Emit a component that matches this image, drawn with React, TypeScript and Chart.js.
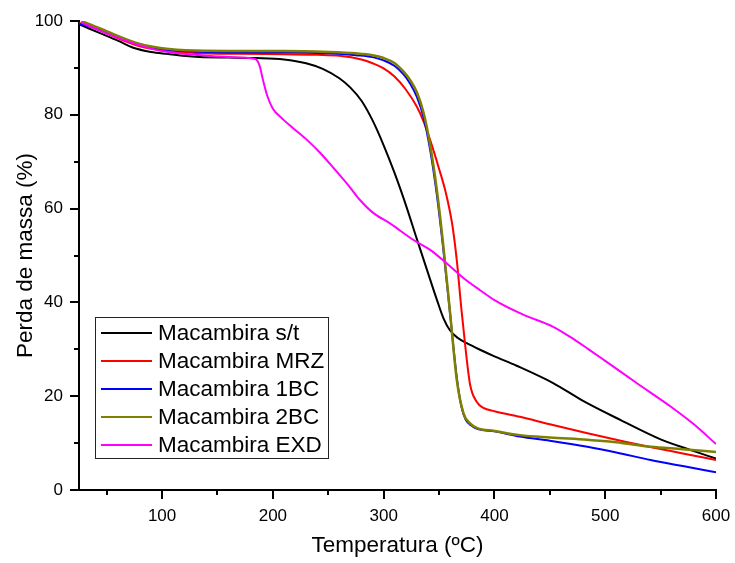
import { useEffect, useRef } from "react";
import { Chart, registerables } from "chart.js";

Chart.register(...registerables);

const FONT = "Arial, 'Liberation Sans', sans-serif";

// Temperature (ºC) and mass (%) for each sample
const tempSt = [25, 44, 60, 74, 90, 104, 134, 160, 185, 210, 230, 245, 260, 270, 280, 290, 300, 310, 320, 330, 340, 348, 354, 360, 367, 375, 387, 400, 420, 453, 480, 514, 550, 580, 600];
const massSt = [99.3, 97.4, 95.8, 94.3, 93.4, 93.0, 92.3, 92.2, 92.1, 91.8, 91.0, 89.8, 87.8, 85.8, 83.0, 78.8, 73.5, 67.5, 60.8, 53.5, 46.3, 40.6, 36.6, 34.0, 32.4, 31.3, 29.9, 28.5, 26.5, 22.8, 19.0, 14.9, 10.8, 8.3, 6.7];

const tempMrz = [25, 44, 60, 80, 100, 130, 170, 210, 240, 260, 280, 290, 300, 310, 320, 330, 336, 342, 350, 356, 362, 366, 370, 374, 378, 384, 390, 400, 423, 450, 484, 520, 544, 570, 600];
const massMrz = [99.6, 98.0, 96.3, 94.6, 93.7, 93.2, 93.0, 92.9, 92.8, 92.6, 91.8, 91.0, 89.9, 88.1, 85.4, 81.7, 78.6, 74.6, 68.5, 63.5, 56.5, 49.0, 39.0, 30.0, 22.5, 18.8, 17.5, 16.8, 15.6, 14.0, 12.1, 10.2, 9.0, 7.8, 6.4];

const temp1bc = [25, 44, 60, 80, 100, 130, 170, 210, 250, 275, 290, 300, 310, 318, 324, 330, 336, 342, 348, 354, 360, 366, 370, 374, 380, 385, 400, 423, 450, 484, 510, 541, 570, 600];
const mass1bc = [99.4, 98.2, 96.5, 94.9, 94.0, 93.5, 93.3, 93.3, 93.1, 92.7, 92.3, 91.6, 90.4, 88.6, 86.6, 83.8, 79.5, 72.5, 63.0, 51.0, 37.5, 24.0, 18.0, 15.0, 13.6, 13.0, 12.5, 11.4, 10.5, 9.2, 8.0, 6.4, 5.1, 3.8];

const temp2bc = [27, 44, 60, 80, 100, 130, 170, 210, 250, 275, 290, 300, 310, 318, 324, 330, 336, 342, 348, 354, 360, 366, 372, 378, 384.5, 400, 423, 450, 484, 510, 541, 570, 600];
const mass2bc = [100.0, 98.4, 96.8, 95.1, 94.2, 93.7, 93.6, 93.6, 93.4, 93.1, 92.7, 92.1, 91.0, 89.2, 87.4, 84.8, 80.5, 73.5, 64.0, 51.8, 37.7, 23.5, 16.4, 14.2, 13.2, 12.6, 11.7, 11.2, 10.7, 10.2, 9.2, 8.7, 8.1];

const tempExd = [27, 44, 60, 80, 100, 130, 160, 184, 188, 191, 195, 200, 207, 218, 231, 243, 255, 268, 278, 290, 306, 327, 342, 357, 372, 387, 400, 425, 453, 468, 485, 499, 529, 559, 580, 600];
const massExd = [99.7, 97.9, 96.4, 94.8, 93.6, 92.8, 92.3, 91.9, 90.5, 87.5, 84.0, 81.3, 79.5, 77.2, 74.6, 71.8, 68.6, 65.0, 62.0, 59.2, 56.8, 53.3, 51.2, 48.3, 45.2, 42.6, 40.5, 37.5, 34.8, 32.7, 30.0, 27.7, 22.7, 17.8, 14.0, 9.8];

const seriesNames = ["Macambira s/t", "Macambira MRZ", "Macambira 1BC", "Macambira 2BC", "Macambira EXD"];
const seriesColors = ["#000000", "#ff0000", "#0000ff", "#808000", "#ff00ff"];

const xMajorTicks = [100, 200, 300, 400, 500, 600];
const xMinorTicks = [50, 150, 250, 350, 450, 550];
const yMajorTicks = [0, 20, 40, 60, 80, 100];
const yMinorTicks = [10, 30, 50, 70, 90];

const pairs = (xs: number[], ys: number[]) => xs.map((x, i) => ({ x, y: ys[i] }));

// Short outward ticks between the labelled ones
const minorTicksPlugin = {
  id: "minorTicks",
  afterDraw(chart: any) {
    const { ctx, scales, chartArea } = chart;
    ctx.save();
    ctx.strokeStyle = "#000";
    ctx.lineWidth = 2;
    ctx.beginPath();
    for (const v of xMinorTicks) {
      const px = Math.round(scales.x.getPixelForValue(v));
      ctx.moveTo(px, chartArea.bottom);
      ctx.lineTo(px, chartArea.bottom + 5);
    }
    for (const v of yMinorTicks) {
      const py = Math.round(scales.y.getPixelForValue(v));
      ctx.moveTo(chartArea.left, py);
      ctx.lineTo(chartArea.left - 5, py);
    }
    ctx.stroke();
    ctx.restore();
  },
};

// Boxed legend in the lower-left corner of the plot
const boxLegendPlugin = {
  id: "boxLegend",
  afterDraw(chart: any) {
    const { ctx, chartArea } = chart;
    const datasets = chart.data.datasets;
    const rowH = 28;
    const fontSize = 22.5;
    ctx.save();
    ctx.font = `${fontSize}px ${FONT}`;
    let maxW = 0;
    for (const ds of datasets) maxW = Math.max(maxW, ctx.measureText(ds.label).width);
    const left = chartArea.left + 16;
    const bottom = chartArea.bottom - 32;
    const height = rowH * datasets.length + 1;
    const top = bottom - height;
    const width = 63 + maxW + 4;
    ctx.fillStyle = "#fff";
    ctx.fillRect(left, top, width, height);
    ctx.strokeStyle = "#222";
    ctx.lineWidth = 1;
    ctx.strokeRect(Math.round(left) + 0.5, Math.round(top) + 0.5, Math.round(width), Math.round(height));
    ctx.textBaseline = "middle";
    ctx.textAlign = "left";
    datasets.forEach((ds: any, i: number) => {
      const cy = top + 16 + rowH * i;
      ctx.strokeStyle = ds.borderColor;
      ctx.lineWidth = 2;
      ctx.beginPath();
      ctx.moveTo(left + 6, cy);
      ctx.lineTo(left + 57, cy);
      ctx.stroke();
      ctx.fillStyle = "#000";
      ctx.fillText(ds.label, left + 63, cy + 1);
    });
    ctx.restore();
  },
};

export default function App() {
  const canvasRef = useRef<HTMLCanvasElement | null>(null);

  useEffect(() => {
    if (!canvasRef.current) return;
    const series = [
      pairs(tempSt, massSt),
      pairs(tempMrz, massMrz),
      pairs(temp1bc, mass1bc),
      pairs(temp2bc, mass2bc),
      pairs(tempExd, massExd),
    ];
    const drawOrder = [5, 4, 3, 2, 1];
    const chart = new Chart(canvasRef.current, {
      type: "line",
      data: {
        datasets: series.map((data, i) => ({
          label: seriesNames[i],
          data,
          borderColor: seriesColors[i],
          backgroundColor: seriesColors[i],
          borderWidth: i === 3 ? 2.5 : 2,
          pointRadius: 0,
          cubicInterpolationMode: "monotone" as const,
          fill: false,
          order: drawOrder[i],
        })),
      },
      options: {
        responsive: false,
        animation: false,
        devicePixelRatio: 1,
        layout: { padding: { left: 0, top: 21, right: 19, bottom: 0 } },
        plugins: {
          legend: { display: false },
          tooltip: { enabled: false },
        },
        scales: {
          x: {
            type: "linear",
            min: 25,
            max: 600,
            afterBuildTicks: (axis: any) => {
              axis.ticks = xMajorTicks.map((value) => ({ value }));
            },
            afterFit: (scale: any) => {
              scale.height = 73;
              scale.paddingLeft = 0;
              scale.paddingRight = 0;
            },
            ticks: {
              autoSkip: false,
              maxRotation: 0,
              padding: 7,
              color: "#000",
              font: { family: FONT, size: 17 },
            },
            grid: {
              display: true,
              drawOnChartArea: false,
              drawTicks: true,
              tickLength: 9,
              color: "#000",
              lineWidth: 2,
            },
            border: { display: true, color: "#000", width: 2 },
            title: {
              display: true,
              text: "Temperatura (ºC)",
              color: "#000",
              font: { family: FONT, size: 22.5 },
              padding: { top: 0, bottom: 4 },
            },
          },
          y: {
            type: "linear",
            min: 0,
            max: 100,
            afterBuildTicks: (axis: any) => {
              axis.ticks = yMajorTicks.map((value) => ({ value }));
            },
            afterFit: (scale: any) => {
              scale.width = 79;
              scale.paddingTop = 0;
              scale.paddingBottom = 0;
            },
            ticks: {
              autoSkip: false,
              padding: 7,
              color: "#000",
              font: { family: FONT, size: 17 },
            },
            grid: {
              display: true,
              drawOnChartArea: false,
              drawTicks: true,
              tickLength: 9,
              color: "#000",
              lineWidth: 2,
            },
            border: { display: true, color: "#000", width: 2 },
            title: {
              display: true,
              text: "Perda de massa (%)",
              color: "#000",
              font: { family: FONT, size: 22.5 },
              padding: { top: 12, bottom: 0 },
            },
          },
        },
      },
      plugins: [minorTicksPlugin, boxLegendPlugin],
    });
    return () => chart.destroy();
  }, []);

  return (
    <div style={{ position: "fixed", left: 0, top: 0, width: 735, height: 563, background: "#fff" }}>
      <canvas ref={canvasRef} width={735} height={563} style={{ display: "block" }} />
    </div>
  );
}
